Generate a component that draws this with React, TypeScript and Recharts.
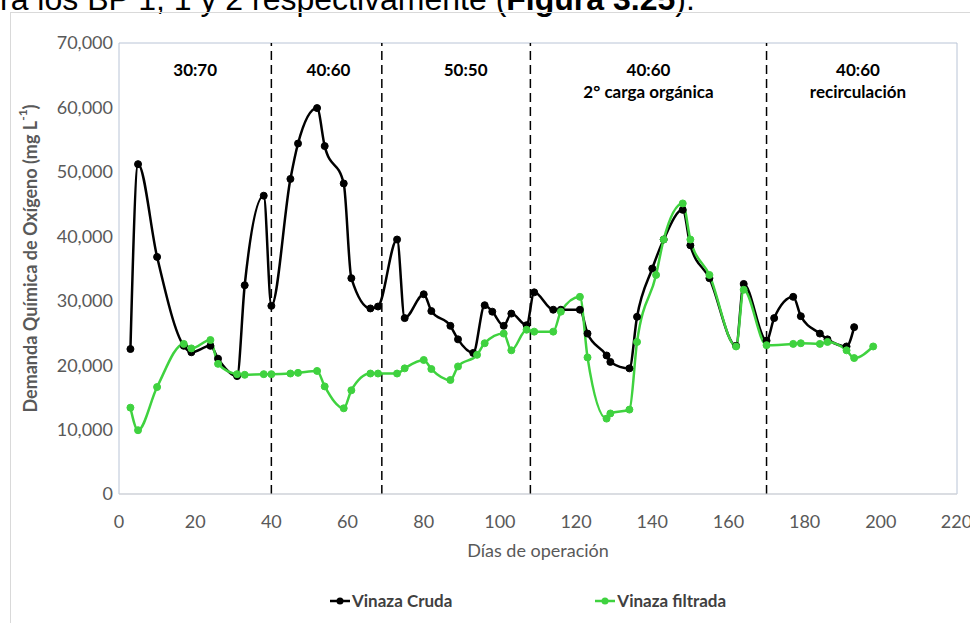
import React from "react";
import {
  LineChart,
  Line,
  XAxis,
  YAxis,
  ReferenceLine,
  ReferenceArea,
  Legend,
} from "recharts";

// Días de operación y DQO (mg/L)
const crudaDays = [
  3, 5, 10, 17, 19, 24, 26, 31, 33, 38, 40, 45, 47, 52, 54, 59, 61, 66, 68, 73,
  75, 80, 82, 87, 89, 93, 96, 98, 101, 103, 107, 109, 114, 116, 121, 123, 128,
  129, 134, 136, 140, 143, 148, 150, 155, 162, 164, 170, 172, 177, 179, 184,
  186, 191, 193,
];
const crudaCOD = [
  22500, 51200, 36800, 23000, 22000, 23000, 21000, 18300, 32400, 46300, 29200,
  48900, 54400, 59900, 54000, 48200, 33500, 28800, 29100, 39500, 27300, 31000,
  28400, 26100, 24000, 21900, 29300, 28300, 26100, 28000, 26200, 31300, 28600,
  28600, 28600, 24900, 21500, 20500, 19500, 27500, 35000, 39500, 44100, 38600,
  33500, 23000, 32600, 23800, 27300, 30600, 27600, 24900, 24000, 22900, 25900,
];

const filtradaDays = [
  3, 5, 10, 17, 19, 24, 26, 31, 33, 38, 40, 45, 47, 52, 54, 59, 61, 66, 68, 73,
  75, 80, 82, 87, 89, 94, 96, 101, 103, 107, 109, 114, 116, 121, 123, 128, 129,
  134, 136, 141, 143, 148, 150, 155, 162, 164, 170, 177, 179, 184, 186, 191,
  193, 198,
];
const filtradaCOD = [
  13400, 9900, 16600, 23300, 22600, 23900, 20200, 18600, 18500, 18600, 18600,
  18700, 18800, 19100, 16700, 13300, 16100, 18700, 18700, 18700, 19500, 20800,
  19400, 17700, 19800, 21600, 23400, 24900, 22300, 25500, 25200, 25200, 28300,
  30600, 21200, 11700, 12500, 13100, 23600, 34000, 39500, 45100, 39500, 34000,
  22900, 31700, 23100, 23300, 23400, 23300, 23600, 22300, 21100, 22900,
];

const phaseLimits = [40, 69, 108, 170];
const phaseLabelDays = [20, 55, 91, 139, 194];
const phaseLabels = [
  ["30:70"],
  ["40:60"],
  ["50:50"],
  ["40:60", "2° carga orgánica"],
  ["40:60", "recirculación"],
];

const xTicks = [0, 20, 40, 60, 80, 100, 120, 140, 160, 180, 200, 220];
const yTicks = [0, 10000, 20000, 30000, 40000, 50000, 60000, 70000];

const crudaData = crudaDays.map((d, i) => ({ day: d, cod: crudaCOD[i] }));
const filtradaData = filtradaDays.map((d, i) => ({ day: d, cod: filtradaCOD[i] }));

const FONT = "Lato, 'Open Sans', sans-serif";

const PhaseLabel = ({ viewBox, lines }: any) => {
  const x = viewBox.x;
  return (
    <text
      x={x}
      y={viewBox.y + 33}
      textAnchor="middle"
      fontFamily={FONT}
      fontWeight={700}
      fontSize={17}
      fill="#000"
    >
      {lines.map((t: string, i: number) => (
        <tspan key={i} x={x} dy={i === 0 ? 0 : 22}>
          {t}
        </tspan>
      ))}
    </text>
  );
};

const YLabel = ({ viewBox }: any) => {
  const cx = 30;
  const cy = viewBox.y + viewBox.height / 2 - 10;
  return (
    <text
      x={cx}
      y={cy}
      transform={`rotate(-90 ${cx} ${cy})`}
      textAnchor="middle"
      dominantBaseline="central"
      fontFamily={FONT}
      fontWeight={700}
      fontSize={18}
      fill="#595959"
    >
      Demanda Química de Oxígeno (mg L
      <tspan baselineShift="super" fontSize={12}>
        -1
      </tspan>
      )
    </text>
  );
};

const LegendContent = ({ payload }: any) => (
  <div
    style={{
      display: "flex",
      gap: 143,
      paddingLeft: 330,
      fontFamily: FONT,
      fontWeight: 700,
      fontSize: 17,
      color: "#404040",
    }}
  >
    {(payload || []).map((p: any) => (
      <div key={p.value} style={{ display: "flex", alignItems: "center" }}>
        <svg width={20} height={10} style={{ marginRight: 2 }}>
          <line x1={0} y1={5} x2={20} y2={5} stroke={p.color} strokeWidth={2.5} />
          <circle cx={10} cy={5} r={3.5} fill={p.color} />
        </svg>
        <span>{p.value}</span>
      </div>
    ))}
  </div>
);

export default function App() {
  return (
    <div
      style={{
        position: "absolute",
        left: 0,
        top: 0,
        width: 970,
        height: 623,
        overflow: "hidden",
        background: "#fff",
      }}
    >
      <div
        style={{
          position: "absolute",
          left: 0,
          top: -17,
          fontFamily: "'Liberation Sans', Arial, sans-serif",
          fontSize: 32,
          lineHeight: "32px",
          whiteSpace: "nowrap",
          color: "#000",
        }}
      >
        ra los BP 1, 1 y 2 respectivamente (<b>Figura 3.25</b>).
      </div>
      <div
        style={{
          position: "absolute",
          left: 10,
          top: 12,
          width: 970,
          height: 620,
          border: "1px solid #d9d9d9",
        }}
      />
      <div style={{ position: "absolute", left: 0, top: 0 }}>
        <LineChart
          width={970}
          height={623}
          margin={{ top: 43, right: 13, left: 0, bottom: 0 }}
        >
          <XAxis
            dataKey="day"
            type="number"
            domain={[0, 220]}
            ticks={xTicks}
            allowDuplicatedCategory={false}
            height={129}
            axisLine={{ stroke: "#d9d9d9" }}
            tickLine={false}
            tickMargin={15}
            tick={{ fontFamily: FONT, fontSize: 18, fill: "#595959" }}
            label={{
              value: "Días de operación",
              position: "insideTop",
              offset: 50,
              fontFamily: FONT,
              fontSize: 18,
              fill: "#595959",
            }}
          />
          <YAxis
            type="number"
            domain={[0, 70000]}
            ticks={yTicks}
            width={119}
            axisLine={false}
            tickLine={false}
            tickMargin={0}
            tickFormatter={(v: number) => v.toLocaleString("en-US")}
            tick={{ fontFamily: FONT, fontSize: 18, fill: "#595959" }}
            label={<YLabel />}
          />
          <ReferenceArea
            x1={0}
            x2={220}
            y1={0}
            y2={70000}
            fill="none"
            stroke="#b9c4d6"
            strokeWidth={1}
          />
          {phaseLimits.map((d) => (
            <ReferenceLine
              key={d}
              x={d}
              stroke="#000"
              strokeWidth={1.5}
              strokeDasharray="9 5"
            />
          ))}
          {phaseLabelDays.map((d, i) => (
            <ReferenceLine
              key={"l" + i}
              x={d}
              stroke="none"
              label={<PhaseLabel lines={phaseLabels[i]} />}
            />
          ))}
          <Legend
            layout="vertical"
            align="center"
            verticalAlign="middle"
            wrapperStyle={{ position: "absolute", left: 0, top: 590, width: 970 }}
            content={<LegendContent />}
          />
          <Line
            data={crudaData}
            dataKey="cod"
            name="Vinaza Cruda"
            type="monotone"
            stroke="#000"
            strokeWidth={2.5}
            dot={{ r: 3.5, fill: "#000", stroke: "#000", strokeWidth: 1 }}
            isAnimationActive={false}
          />
          <Line
            data={filtradaData}
            dataKey="cod"
            name="Vinaza filtrada"
            type="monotone"
            stroke="#3fd23f"
            strokeWidth={2.5}
            dot={{ r: 3.5, fill: "#3fd23f", stroke: "#3fd23f", strokeWidth: 1 }}
            isAnimationActive={false}
          />
        </LineChart>
      </div>
    </div>
  );
}
